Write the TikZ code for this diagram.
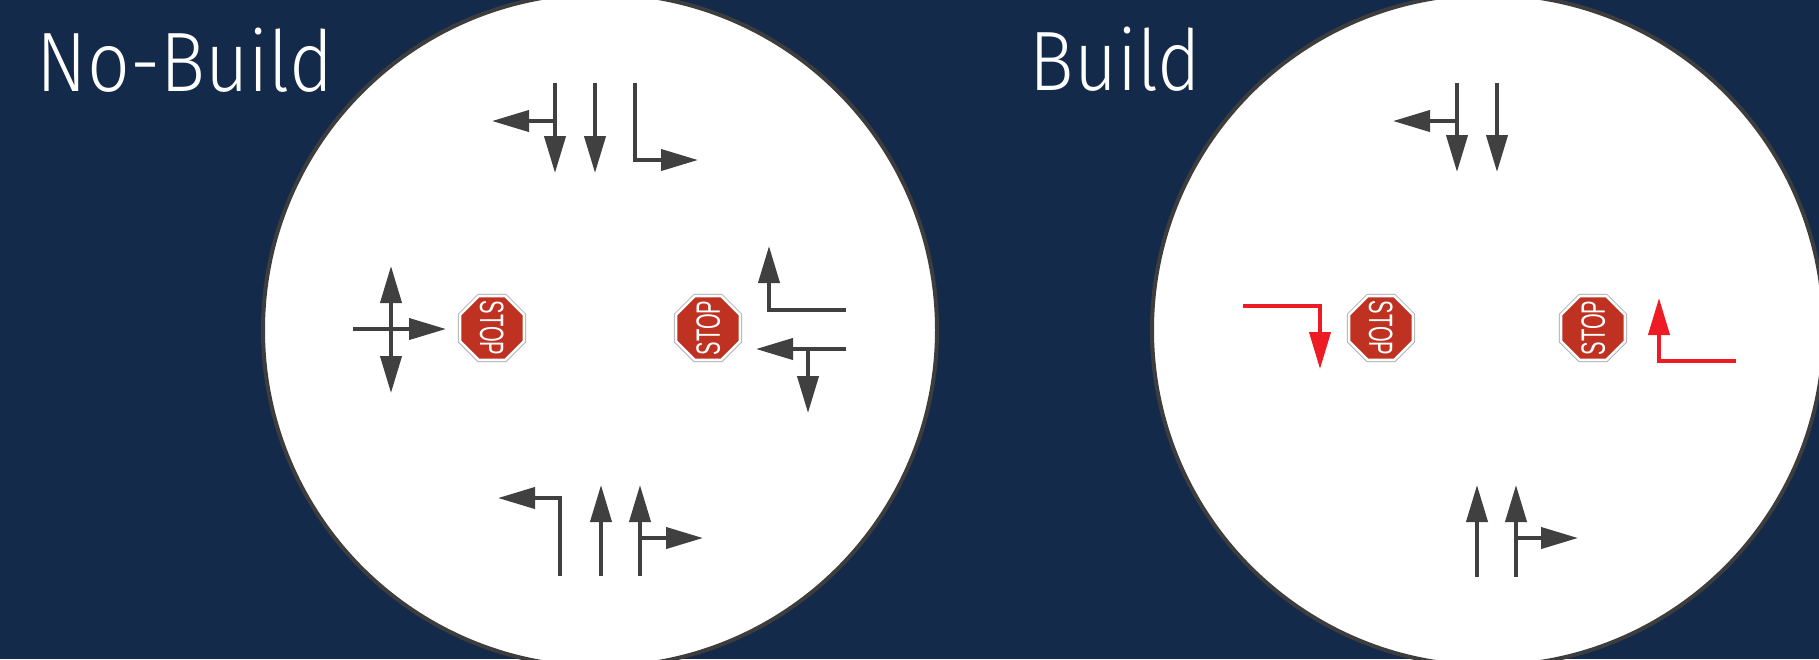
\documentclass[tikz,border=0pt]{standalone}
\usepackage{fontspec}
\setmainfont{Liberation Sans}
\newfontfamily\titlefont{Fira Sans Light}
\newfontfamily\signfont{Liberation Sans}
\usetikzlibrary{arrows.meta,
                shapes.geometric}
\definecolor{navy}{HTML}{142A4B}
\definecolor{lanegray}{HTML}{404040}
\definecolor{rimgray}{HTML}{3D3D3D}
\definecolor{stopred}{HTML}{BF3120}
\definecolor{turnred}{HTML}{ED1C24}
\newcommand\signtext[1]{\makebox[0pt]{\smash{\raisebox{-0.5\height}{\scalebox{0.6}[1]{#1}}}}}

\begin{document}
\begin{tikzpicture}[
x=0.1mm, y=-0.1mm,
       > = {Triangle[length=3.7mm, width=2.1mm]},
   lane/.style = {draw=lanegray, line width=0.4mm},
   turn/.style = {draw=turnred, line width=0.4mm},
   ring/.style = {draw=rimgray, line width=0.4mm, fill=white},
  title/.style = {anchor=base west, inner sep=0pt, text=white,
                  font=\titlefont\fontsize{24pt}{28pt}\selectfont},
stopsign/.style = {regular polygon, regular polygon sides=8,
                  minimum size=6.9mm, inner sep=0pt,
                  fill=stopred, draw=white, line width=0.25mm,
                  preaction={draw=gray!60, line width=0.45mm},
                  text=white, font=\signfont\fontsize{9.6pt}{10pt}\selectfont},
                        ]
\useasboundingbox (0,0) rectangle (1819,659);
\clip (0,0) rectangle (1819,659);
\fill[navy] (0,0) rectangle (1819,659);

\draw[ring] (600,330) circle[radius=337];
\draw[ring] (1488,330) circle[radius=336];

\node[title] (nobuild) at (36,91) {\scalebox{0.89}[1]{No-Build}};
\node[title] (build)   at (1029,90) {\scalebox{0.88}[1]{Build}};

% No-Build: north approach
\draw[lane,->] (555,83) -- (555,173);
\draw[lane,->] (555,121) -- (492,121);
\draw[lane,->] (595,83) -- (595,173);
\draw[lane,->] (635,83) -- (635,160) -- (698,160);
% No-Build: west approach
\draw[lane,<->] (391,266) -- (391,393);
\draw[lane,->] (353,329) -- (446,329);
% No-Build: east approach
\draw[lane,->] (846,310) -- (769,310) -- (769,246);
\draw[lane,->] (846,349) -- (756,349);
\draw[lane,->] (808,349) -- (808,413);
% No-Build: south approach
\draw[lane,->] (560,576) -- (560,498) -- (498,498);
\draw[lane,->] (601,576) -- (601,485);
\draw[lane,->] (640,576) -- (640,485);
\draw[lane,->] (640,538) -- (703,538);

% Build: north and south approaches
\draw[lane,->] (1457,83) -- (1457,172);
\draw[lane,->] (1457,121) -- (1393,121);
\draw[lane,->] (1497,83) -- (1497,172);
\draw[lane,->] (1477,577) -- (1477,485);
\draw[lane,->] (1516,577) -- (1516,485);
\draw[lane,->] (1516,538) -- (1578,538);
% Build: west and east approaches
\draw[turn,->] (1243,306) -- (1320,306) -- (1320,369);
\draw[turn,->] (1736,361) -- (1659,361) -- (1659,298);

\foreach \x/\r [count=\i] in {492/-90, 708/90, 1381/-90, 1593/90}
    \node[stopsign, rotate=\r] (stop-\i) at (\x,328) {\signtext{STOP}};
\end{tikzpicture}
\end{document}
